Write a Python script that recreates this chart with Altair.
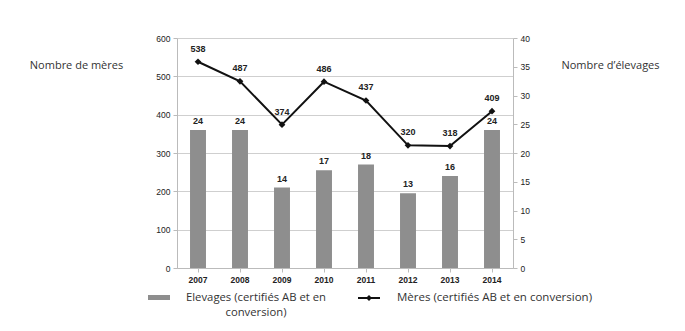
import altair as alt
import pandas as pd

# Organic suckler herds: number of farms and number of cows per year
years = ["2007", "2008", "2009", "2010", "2011", "2012", "2013", "2014"]
elevages = [24, 24, 14, 17, 18, 13, 16, 24]
meres = [538, 487, 374, 486, 437, 320, 318, 409]

df = pd.DataFrame({"annee": years, "elevages": elevages, "meres": meres})

FONT = "Liberation Sans"
TFONT = "Open Sans"
W, H = 336, 230

x_enc = alt.X(
    "annee:N",
    title=None,
    scale=alt.Scale(paddingInner=0.62, paddingOuter=0.31),
    axis=alt.Axis(labelAngle=0, labelFontSize=8.5, labelColor="#222", labelFont=FONT,
                  labelFontWeight="bold", ticks=True, tickColor="#bbb", tickSize=4,
                  domainColor="#bbb", labelPadding=3),
)

y_meres = alt.Y(
    "meres:Q",
    scale=alt.Scale(domain=[0, 600]),
    axis=alt.Axis(orient="left", values=[0, 100, 200, 300, 400, 500, 600],
                  labelOverlap=False,
                  title="Nombre de mères", titleAngle=0, titleX=-101, titleY=27,
                  titleAlign="center", titleBaseline="middle", titleFont=TFONT,
                  titleFontSize=11, titleFontWeight="normal", titleColor="#333",
                  labelFontSize=8.5, labelFont=FONT, labelColor="#222",
                  grid=True, gridColor="#cfcfcf", domainColor="#bbb",
                  tickColor="#bbb", tickSize=4, labelPadding=3),
)

y_elev = alt.Y(
    "elevages:Q",
    scale=alt.Scale(domain=[0, 40]),
    axis=alt.Axis(orient="right", values=[0, 5, 10, 15, 20, 25, 30, 35, 40],
                  labelOverlap=False,
                  title="Nombre d’élevages", titleAngle=0, titleX=97, titleY=27,
                  titleAlign="center", titleBaseline="middle", titleFont=TFONT,
                  titleFontSize=11, titleFontWeight="normal", titleColor="#333",
                  labelFontSize=8.5, labelFont=FONT, labelColor="#222",
                  grid=False, domainColor="#bbb", tickColor="#bbb", tickSize=4,
                  labelPadding=3),
)

base = alt.Chart(df)

bars = base.mark_bar(color="#8e8e8e").encode(x=x_enc, y=y_elev)
bar_labels = base.mark_text(dy=-9, fontSize=9, fontWeight="bold", font=FONT,
                            color="#222", baseline="middle").encode(
    x=x_enc, y=y_elev, text="elevages:Q")
bar_layer = alt.layer(bars, bar_labels)

line = base.mark_line(color="#111", strokeWidth=2).encode(x=x_enc, y=y_meres)
pts = base.mark_point(shape="diamond", filled=True, size=45, color="#111",
                      opacity=1).encode(x=x_enc, y=y_meres)
line_labels = base.mark_text(dy=-13, fontSize=9, fontWeight="bold", font=FONT,
                             color="#222", baseline="middle").encode(
    x=x_enc, y=y_meres, text="meres:Q")
line_layer = alt.layer(line, pts, line_labels)

# Legend below the chart
leg = pd.DataFrame({"k": [0]})
lg = alt.Chart(leg)
leg_bar = lg.mark_rect(color="#8e8e8e").encode(
    x=alt.value(-29), x2=alt.value(-7), y=alt.value(257), y2=alt.value(262))
leg_bar_txt = lg.mark_text(align="center", baseline="middle", fontSize=11.3,
                           font=TFONT, color="#333", lineHeight=15).encode(
    x=alt.value(79), y=alt.value(260),
    text=alt.value(["Elevages (certifiés AB et en", "conversion)"]))
leg_line = lg.mark_rule(color="#111", strokeWidth=2).encode(
    x=alt.value(181), x2=alt.value(203), y=alt.value(260))
leg_pt = lg.mark_point(shape="diamond", filled=True, size=35, color="#111",
                       opacity=1).encode(x=alt.value(192), y=alt.value(260))
leg_line_txt = lg.mark_text(align="left", baseline="middle", fontSize=11.5,
                            font=TFONT, color="#333").encode(
    x=alt.value(220), y=alt.value(260),
    text=alt.value("Mères (certifiés AB et en conversion)"))
legend = alt.layer(leg_bar, leg_bar_txt, leg_line, leg_pt, leg_line_txt)

chart = (
    alt.layer(line_layer, bar_layer, legend)
    .resolve_scale(y="independent")
    .properties(
        width=W, height=H,
        autosize=alt.AutoSizeParams(type="none"),
        padding={"left": 177, "top": 38, "right": 685 - 177 - W, "bottom": 331 - 38 - H},
        background="white",
    )
    .configure_view(stroke=None)
)

chart.save("out.html", embed_options={"renderer": "svg", "actions": False})
